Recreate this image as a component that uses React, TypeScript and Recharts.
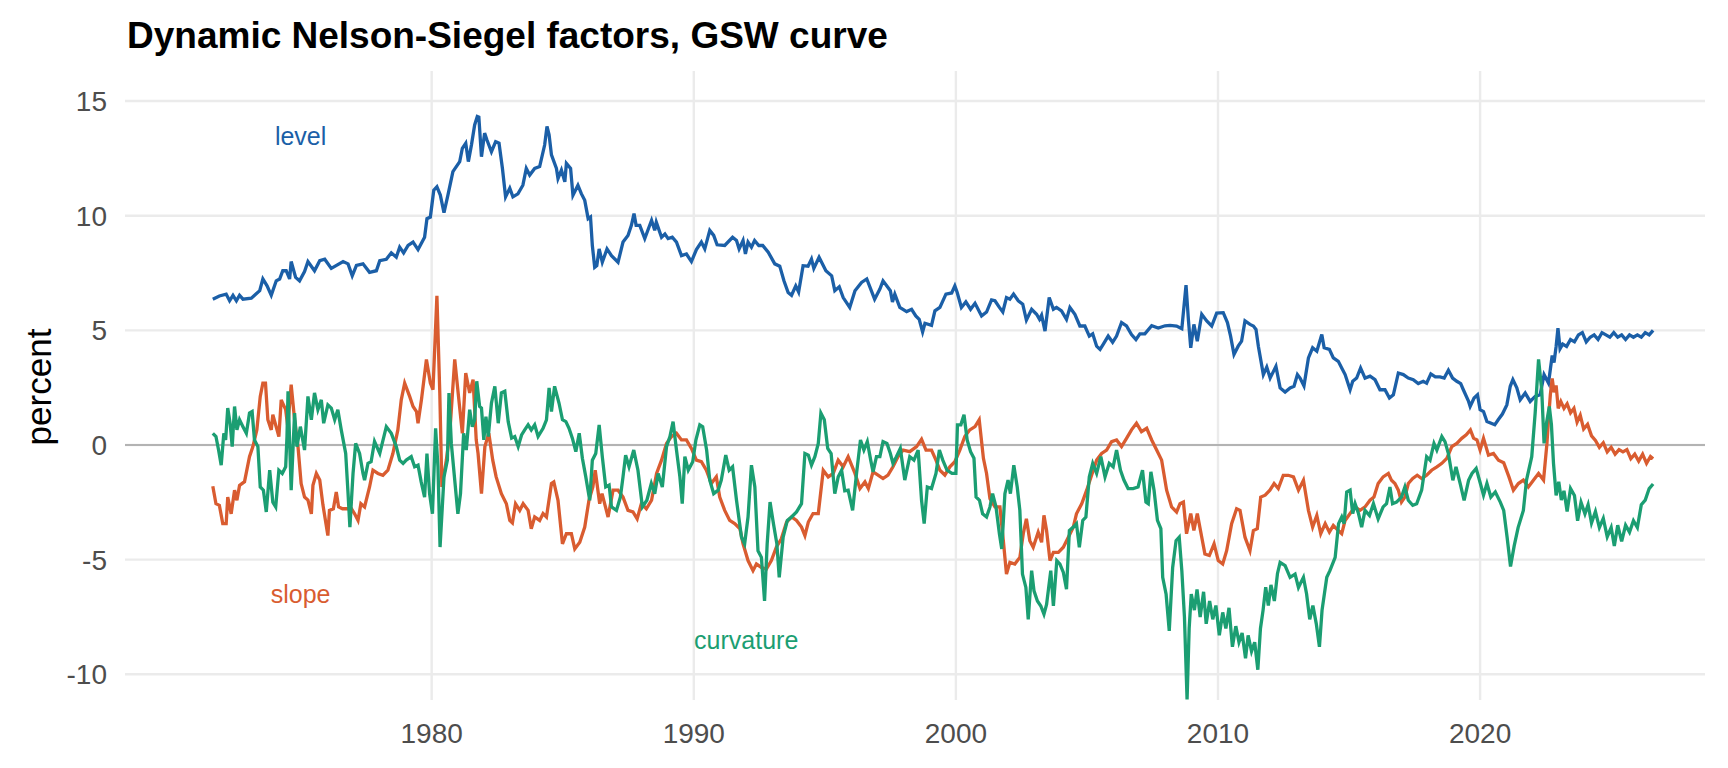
import React from 'react';
import { LineChart, Line, XAxis, YAxis, CartesianGrid, ReferenceLine, ReferenceDot } from 'recharts';

// [year, percent]
const level: [number, number][] = [
  [1971.65, 6.36], [1971.9, 6.5], [1972.16, 6.58], [1972.29, 6.29], [1972.42, 6.53], [1972.55, 6.29],
  [1972.67, 6.53], [1972.8, 6.36], [1973.12, 6.4], [1973.44, 6.73], [1973.56, 7.24], [1973.72, 6.94],
  [1973.88, 6.53], [1974.07, 7.16], [1974.2, 7.24], [1974.32, 7.6], [1974.45, 7.6], [1974.58, 7.24],
  [1974.64, 8.0], [1974.81, 7.31], [1974.96, 7.16], [1975.15, 7.56], [1975.28, 8.0], [1975.53, 7.6],
  [1975.73, 8.04], [1975.92, 8.1], [1976.17, 7.7], [1976.62, 8.0], [1976.81, 7.9], [1976.97, 7.38],
  [1977.13, 7.83], [1977.38, 7.9], [1977.63, 7.53], [1977.89, 7.6], [1978.02, 8.04], [1978.27, 8.1],
  [1978.46, 8.38], [1978.65, 8.19], [1978.78, 8.63], [1978.93, 8.38], [1979.1, 8.7], [1979.29, 8.85],
  [1979.48, 8.52], [1979.73, 9.06], [1979.82, 9.87], [1979.95, 9.94], [1980.08, 11.11], [1980.2, 11.26],
  [1980.33, 10.9], [1980.47, 10.13], [1980.62, 10.9], [1980.81, 11.92], [1980.94, 12.14], [1981.07, 12.36],
  [1981.17, 12.94], [1981.3, 13.16], [1981.4, 12.36], [1981.52, 13.1], [1981.64, 13.96], [1981.74, 14.33],
  [1981.8, 14.3], [1981.9, 12.57], [1982.02, 13.6], [1982.11, 13.3], [1982.28, 12.79], [1982.44, 13.23],
  [1982.57, 13.16], [1982.7, 12.06], [1982.82, 10.82], [1982.98, 11.2], [1983.1, 10.82], [1983.29, 10.95],
  [1983.48, 11.33], [1983.61, 12.06], [1983.74, 11.77], [1983.93, 12.06], [1984.12, 12.14], [1984.31, 13.08],
  [1984.4, 13.89], [1984.48, 13.53], [1984.57, 12.65], [1984.76, 12.06], [1984.82, 11.62], [1984.95, 11.99],
  [1985.08, 11.48], [1985.14, 12.28], [1985.3, 12.06], [1985.39, 10.89], [1985.58, 11.33], [1985.71, 10.96],
  [1985.84, 10.67], [1985.97, 9.87], [1986.06, 9.94], [1986.13, 8.7], [1986.22, 7.75], [1986.3, 7.82],
  [1986.39, 8.55], [1986.51, 7.97], [1986.69, 8.55], [1986.86, 8.26], [1987.11, 7.97], [1987.3, 8.85],
  [1987.49, 9.14], [1987.62, 9.58], [1987.72, 10.09], [1987.8, 9.58], [1987.94, 9.58], [1988.13, 9.0],
  [1988.39, 9.8], [1988.51, 9.36], [1988.57, 9.72], [1988.77, 9.06], [1988.9, 9.2], [1989.02, 9.0],
  [1989.18, 9.06], [1989.34, 8.85], [1989.53, 8.26], [1989.72, 8.33], [1989.91, 8.0], [1990.1, 8.52],
  [1990.29, 8.85], [1990.42, 8.55], [1990.61, 9.36], [1990.76, 9.14], [1990.89, 8.73], [1991.18, 8.7],
  [1991.48, 9.06], [1991.63, 8.92], [1991.73, 8.55], [1991.88, 8.92], [1991.97, 8.33], [1992.07, 8.85],
  [1992.2, 8.63], [1992.32, 8.92], [1992.48, 8.7], [1992.63, 8.7], [1992.84, 8.41], [1993.09, 7.9],
  [1993.28, 7.8], [1993.44, 7.16], [1993.6, 6.65], [1993.73, 6.53], [1993.89, 6.94], [1994.0, 6.67],
  [1994.17, 7.82], [1994.36, 7.8], [1994.49, 8.11], [1994.58, 7.7], [1994.78, 8.19], [1995.04, 7.6],
  [1995.26, 7.38], [1995.38, 6.73], [1995.55, 6.9], [1995.7, 6.43], [1995.95, 6.0], [1996.15, 6.73],
  [1996.4, 7.09], [1996.6, 7.24], [1996.9, 6.36], [1997.1, 6.8], [1997.22, 7.16], [1997.5, 6.73],
  [1997.58, 6.24], [1997.67, 6.58], [1997.86, 6.0], [1998.12, 5.82], [1998.31, 5.92], [1998.47, 5.63],
  [1998.6, 5.48], [1998.73, 4.93], [1998.82, 5.31], [1999.07, 5.22], [1999.2, 5.85], [1999.39, 6.0],
  [1999.62, 6.58], [1999.84, 6.63], [1999.96, 6.94], [2000.05, 6.65], [2000.21, 6.0], [2000.38, 6.24],
  [2000.56, 5.92], [2000.73, 6.18], [2000.98, 5.63], [2001.17, 5.8], [2001.36, 6.33], [2001.49, 6.29],
  [2001.66, 6.0], [2001.79, 5.8], [2001.93, 6.43], [2002.06, 6.36], [2002.2, 6.58], [2002.38, 6.29],
  [2002.55, 6.14], [2002.69, 5.45], [2002.89, 5.92], [2003.08, 5.7], [2003.19, 5.48], [2003.27, 5.66],
  [2003.4, 4.97], [2003.56, 6.43], [2003.72, 5.92], [2003.84, 6.0], [2004.03, 5.85], [2004.22, 5.48],
  [2004.35, 6.0], [2004.54, 5.7], [2004.73, 5.19], [2004.92, 5.19], [2005.09, 4.75], [2005.22, 4.85],
  [2005.37, 4.31], [2005.5, 4.17], [2005.62, 4.39], [2005.81, 4.75], [2005.98, 4.48], [2006.13, 4.75],
  [2006.32, 5.34], [2006.51, 5.19], [2006.7, 4.82], [2006.87, 4.6], [2007.02, 4.85], [2007.21, 4.85],
  [2007.47, 5.2], [2007.72, 5.1], [2007.98, 5.2], [2008.17, 5.22], [2008.42, 5.19], [2008.62, 5.07],
  [2008.78, 6.97], [2008.87, 5.48], [2008.96, 4.24], [2009.08, 5.26], [2009.21, 4.53], [2009.38, 5.7],
  [2009.57, 5.41], [2009.76, 5.19], [2009.95, 5.75], [2010.2, 5.77], [2010.36, 5.34], [2010.48, 4.75],
  [2010.61, 3.95], [2010.77, 4.31], [2010.9, 4.53], [2011.03, 5.41], [2011.22, 5.26], [2011.35, 5.19],
  [2011.45, 5.04], [2011.54, 4.31], [2011.73, 3.07], [2011.86, 3.4], [2011.99, 2.92], [2012.21, 3.43],
  [2012.37, 2.49], [2012.56, 2.31], [2012.75, 2.49], [2012.9, 2.56], [2013.03, 3.07], [2013.13, 2.92],
  [2013.28, 2.58], [2013.45, 3.8], [2013.61, 4.24], [2013.77, 4.09], [2013.96, 4.82], [2014.05, 4.24],
  [2014.25, 4.17], [2014.4, 3.8], [2014.59, 3.65], [2014.72, 3.36], [2014.85, 3.07], [2015.04, 2.41],
  [2015.14, 2.78], [2015.29, 2.92], [2015.44, 3.36], [2015.61, 2.92], [2015.8, 3.0], [2015.99, 2.85],
  [2016.18, 2.41], [2016.37, 2.41], [2016.54, 2.05], [2016.69, 2.19], [2016.88, 3.14], [2017.07, 3.07],
  [2017.26, 2.92], [2017.45, 2.85], [2017.64, 2.68], [2017.83, 2.78], [2017.96, 2.7], [2018.12, 3.1],
  [2018.29, 2.97], [2018.47, 2.97], [2018.63, 2.92], [2018.79, 3.26], [2018.95, 2.92], [2019.11, 2.78],
  [2019.26, 2.68], [2019.36, 2.41], [2019.56, 1.9], [2019.62, 1.68], [2019.77, 2.05], [2019.9, 2.19],
  [2020.0, 1.54], [2020.13, 1.46], [2020.26, 1.02], [2020.56, 0.88], [2020.69, 1.1], [2020.85, 1.35],
  [2021.02, 1.75], [2021.15, 2.56], [2021.25, 2.85], [2021.4, 2.49], [2021.53, 1.97], [2021.72, 2.27],
  [2021.91, 1.9], [2022.1, 2.12], [2022.29, 2.19], [2022.44, 3.07], [2022.61, 2.7], [2022.68, 3.3],
  [2022.75, 3.9], [2022.82, 3.6], [2022.9, 4.3], [2022.97, 5.1], [2023.05, 4.2], [2023.15, 4.4],
  [2023.3, 4.3], [2023.45, 4.6], [2023.6, 4.5], [2023.75, 4.8], [2023.9, 4.9], [2024.05, 4.5],
  [2024.2, 4.7], [2024.35, 4.8], [2024.5, 4.6], [2024.65, 4.9], [2024.8, 4.8], [2024.95, 4.7],
  [2025.1, 4.9], [2025.25, 4.7], [2025.4, 4.8], [2025.55, 4.6], [2025.7, 4.8], [2025.85, 4.7],
  [2026.0, 4.8], [2026.15, 4.7], [2026.3, 4.9], [2026.45, 4.8], [2026.6, 5.0],
];

const slope: [number, number][] = [
  [1971.65, -1.8], [1971.77, -2.56], [1971.9, -2.63], [1972.03, -3.43], [1972.16, -3.43], [1972.22, -2.27],
  [1972.35, -3.0], [1972.48, -1.97], [1972.57, -2.41], [1972.67, -1.76], [1972.86, -1.6], [1973.05, -0.51],
  [1973.18, -0.07], [1973.33, 0.66], [1973.46, 2.12], [1973.56, 2.7], [1973.66, 2.7], [1973.75, 1.1],
  [1973.88, 0.66], [1973.94, 1.32], [1974.1, 0.66], [1974.17, 0.37], [1974.26, 1.97], [1974.43, 1.54],
  [1974.51, 0.8], [1974.64, 2.63], [1974.77, 1.1], [1974.9, -0.07], [1975.02, -1.68], [1975.15, -2.27],
  [1975.28, -2.4], [1975.41, -3.0], [1975.47, -1.76], [1975.6, -1.24], [1975.73, -1.53], [1975.85, -2.6],
  [1976.04, -3.95], [1976.1, -2.85], [1976.25, -2.78], [1976.36, -2.05], [1976.45, -2.7], [1976.6, -2.78],
  [1976.74, -2.78], [1976.94, -2.78], [1977.06, -3.0], [1977.19, -3.29], [1977.3, -2.56], [1977.44, -2.7],
  [1977.63, -1.83], [1977.76, -1.1], [1977.95, -1.24], [1978.14, -1.32], [1978.33, -1.1], [1978.52, -0.37],
  [1978.71, 0.66], [1978.84, 1.97], [1978.97, 2.7], [1979.16, 2.12], [1979.29, 1.68], [1979.42, 1.46],
  [1979.48, 0.95], [1979.61, 1.97], [1979.8, 3.73], [1979.95, 2.7], [1980.05, 2.41], [1980.2, 6.51],
  [1980.31, 2.27], [1980.39, -1.83], [1980.56, -0.66], [1980.69, 0.51], [1980.88, 3.73], [1981.01, 2.27],
  [1981.17, 0.51], [1981.3, 3.14], [1981.45, 2.27], [1981.58, 2.85], [1981.7, 0.22], [1981.77, -0.37],
  [1981.9, -2.12], [1982.03, -0.07], [1982.18, 0.51], [1982.33, -0.66], [1982.46, -1.39], [1982.66, -2.12],
  [1982.85, -2.56], [1982.98, -3.29], [1983.08, -3.4], [1983.2, -2.56], [1983.36, -2.85], [1983.49, -2.56],
  [1983.68, -2.85], [1983.8, -3.65], [1983.93, -3.14], [1984.12, -3.29], [1984.25, -2.99], [1984.38, -3.14],
  [1984.57, -1.68], [1984.66, -1.61], [1984.82, -2.41], [1984.99, -4.31], [1985.14, -3.87], [1985.33, -3.87],
  [1985.46, -4.53], [1985.65, -4.24], [1985.84, -3.58], [1986.0, -2.41], [1986.15, -1.83], [1986.24, -1.1],
  [1986.41, -2.56], [1986.5, -2.12], [1986.73, -3.14], [1986.92, -1.97], [1987.11, -1.97], [1987.3, -2.27],
  [1987.49, -2.85], [1987.68, -2.92], [1987.84, -3.22], [1988.0, -2.56], [1988.19, -2.78], [1988.39, -2.41],
  [1988.58, -1.24], [1988.77, -0.66], [1988.96, 0.07], [1989.15, 0.37], [1989.34, 0.51], [1989.53, 0.22],
  [1989.72, 0.22], [1989.91, -0.15], [1990.1, -0.66], [1990.29, -0.73], [1990.48, -1.1], [1990.67, -1.68],
  [1990.86, -1.39], [1990.99, -2.27], [1991.18, -2.85], [1991.37, -3.29], [1991.56, -3.43], [1991.76, -3.65],
  [1991.88, -4.31], [1992.07, -5.04], [1992.26, -5.48], [1992.39, -5.19], [1992.58, -5.34], [1992.77, -5.41],
  [1992.96, -5.04], [1993.15, -4.46], [1993.34, -4.09], [1993.54, -3.36], [1993.73, -3.14], [1993.92, -3.29],
  [1994.11, -3.58], [1994.24, -3.95], [1994.37, -3.36], [1994.55, -2.99], [1994.75, -2.99], [1994.94, -1.1],
  [1995.13, -1.39], [1995.32, -1.24], [1995.51, -0.66], [1995.7, -0.95], [1995.89, -0.51], [1996.15, -1.24],
  [1996.34, -1.9], [1996.53, -1.61], [1996.66, -1.9], [1996.84, -1.17], [1997.03, -1.31], [1997.22, -1.46],
  [1997.41, -1.31], [1997.6, -0.95], [1997.79, -0.51], [1997.99, -0.22], [1998.24, -0.29], [1998.5, -0.07],
  [1998.69, 0.25], [1998.86, -0.22], [1999.07, -0.22], [1999.24, -0.66], [1999.39, -1.1], [1999.58, -1.31],
  [1999.77, -0.95], [1999.96, -0.73], [2000.15, -0.22], [2000.34, 0.37], [2000.53, 0.66], [2000.73, 0.8],
  [2000.89, 1.1], [2001.05, -0.58], [2001.17, -1.24], [2001.3, -2.34], [2001.49, -2.7], [2001.68, -2.7],
  [2001.81, -4.17], [2001.93, -5.63], [2002.06, -5.12], [2002.25, -5.19], [2002.44, -4.9], [2002.57, -3.87],
  [2002.69, -3.22], [2002.82, -4.17], [2002.95, -4.46], [2003.14, -3.8], [2003.27, -4.24], [2003.36, -3.07],
  [2003.46, -3.73], [2003.59, -5.04], [2003.72, -4.68], [2003.91, -4.68], [2004.1, -4.46], [2004.29, -4.02],
  [2004.48, -3.58], [2004.6, -3.0], [2004.8, -2.56], [2004.99, -1.97], [2005.18, -1.31], [2005.37, -0.66],
  [2005.56, -0.37], [2005.75, -0.22], [2005.94, 0.15], [2006.13, 0.22], [2006.32, -0.07], [2006.51, 0.29],
  [2006.7, 0.66], [2006.89, 0.95], [2007.08, 0.58], [2007.28, 0.73], [2007.47, 0.22], [2007.66, -0.22],
  [2007.85, -0.66], [2008.04, -1.97], [2008.23, -2.7], [2008.42, -2.92], [2008.55, -2.56], [2008.68, -2.49],
  [2008.8, -3.87], [2008.96, -2.99], [2009.08, -3.73], [2009.21, -2.99], [2009.38, -4.02], [2009.5, -4.75],
  [2009.67, -4.82], [2009.85, -4.31], [2010.01, -5.04], [2010.18, -5.19], [2010.33, -4.61], [2010.52, -3.43],
  [2010.71, -2.78], [2010.84, -2.85], [2011.03, -4.02], [2011.22, -4.61], [2011.35, -3.73], [2011.5, -3.65],
  [2011.63, -2.27], [2011.8, -2.19], [2011.98, -1.97], [2012.14, -1.68], [2012.3, -1.9], [2012.49, -1.32],
  [2012.68, -1.32], [2012.88, -1.39], [2013.07, -1.97], [2013.26, -1.54], [2013.45, -2.85], [2013.61, -3.58],
  [2013.77, -3.07], [2013.92, -3.87], [2014.09, -3.43], [2014.25, -3.8], [2014.4, -3.51], [2014.59, -3.73],
  [2014.72, -3.87], [2014.85, -3.29], [2015.04, -2.99], [2015.23, -2.7], [2015.42, -2.85], [2015.61, -2.7],
  [2015.8, -2.41], [2015.95, -2.27], [2016.11, -1.68], [2016.3, -1.39], [2016.5, -1.24], [2016.62, -1.54],
  [2016.75, -1.68], [2016.88, -1.97], [2017.0, -2.49], [2017.13, -2.27], [2017.26, -1.68], [2017.43, -1.46],
  [2017.6, -1.32], [2017.77, -1.46], [2017.96, -1.32], [2018.15, -1.1], [2018.35, -0.95], [2018.54, -0.8],
  [2018.73, -0.58], [2018.92, -0.07], [2019.11, 0.07], [2019.3, 0.29], [2019.47, 0.44], [2019.63, 0.66],
  [2019.75, 0.3], [2019.88, 0.22], [2020.0, -0.22], [2020.13, 0.29], [2020.32, -0.44], [2020.51, -0.37],
  [2020.7, -0.66], [2020.9, -0.77], [2021.1, -1.39], [2021.27, -1.97], [2021.46, -1.68], [2021.65, -1.53],
  [2021.84, -1.83], [2022.04, -1.53], [2022.23, -1.24], [2022.42, -1.53], [2022.55, 0.07], [2022.62, 1.3],
  [2022.68, 2.2], [2022.75, 2.9], [2022.82, 2.3], [2022.9, 2.6], [2022.98, 1.6], [2023.08, 1.9],
  [2023.2, 1.6], [2023.32, 1.8], [2023.45, 1.4], [2023.58, 1.6], [2023.7, 1.0], [2023.82, 1.3],
  [2023.95, 0.7], [2024.1, 0.9], [2024.25, 0.4], [2024.4, 0.2], [2024.55, -0.1], [2024.7, 0.1],
  [2024.85, -0.3], [2025.0, -0.1], [2025.15, -0.4], [2025.3, -0.2], [2025.45, -0.3], [2025.6, -0.2],
  [2025.75, -0.6], [2025.9, -0.4], [2026.05, -0.7], [2026.2, -0.4], [2026.35, -0.8], [2026.5, -0.5],
  [2026.6, -0.6],
];

const curvature: [number, number][] = [
  [1971.65, 0.51], [1971.77, 0.37], [1971.87, -0.22], [1971.97, -0.88], [1972.07, 0.51], [1972.14, 0.22],
  [1972.22, 1.61], [1972.31, 0.95], [1972.39, -0.07], [1972.48, 1.68], [1972.57, 0.66], [1972.67, 1.1],
  [1972.8, 0.8], [1972.93, 0.51], [1973.05, 1.39], [1973.15, 1.46], [1973.24, 0.22], [1973.37, -0.07],
  [1973.46, -1.83], [1973.58, -1.97], [1973.69, -2.92], [1973.82, -1.1], [1973.94, -2.49], [1974.05, -2.7],
  [1974.17, -1.1], [1974.3, -1.24], [1974.43, -0.95], [1974.48, 0.37], [1974.52, 2.34], [1974.64, -1.97],
  [1974.77, 1.39], [1974.86, -0.07], [1974.99, 0.8], [1975.15, -0.22], [1975.28, 2.12], [1975.41, 1.1],
  [1975.53, 2.27], [1975.66, 1.54], [1975.79, 1.97], [1975.88, 0.95], [1976.04, 1.75], [1976.17, 1.61],
  [1976.3, 1.1], [1976.42, 1.54], [1976.55, 0.66], [1976.72, -0.37], [1976.81, -2.12], [1976.88, -3.58],
  [1977.0, -1.24], [1977.1, 0.07], [1977.25, -0.37], [1977.38, -1.24], [1977.44, -1.53], [1977.57, -0.8],
  [1977.69, -0.73], [1977.82, 0.15], [1978.02, -0.37], [1978.27, 0.8], [1978.46, 0.51], [1978.65, -0.07],
  [1978.78, -0.66], [1978.91, -0.8], [1979.03, -0.66], [1979.22, -0.51], [1979.35, -0.95], [1979.48, -0.88],
  [1979.6, -1.61], [1979.73, -2.27], [1979.82, -0.37], [1979.92, -2.12], [1980.03, -3.0], [1980.15, 0.73],
  [1980.24, -0.95], [1980.32, -4.45], [1980.47, -1.39], [1980.6, -0.66], [1980.66, 2.27], [1980.75, 0.07],
  [1980.88, -1.53], [1981.0, -3.0], [1981.1, -2.12], [1981.22, 0.51], [1981.32, -0.22], [1981.45, 1.54],
  [1981.55, 0.8], [1981.64, 1.1], [1981.72, 2.78], [1981.83, 1.68], [1981.9, 1.61], [1981.99, 0.22],
  [1982.07, 1.24], [1982.16, 0.37], [1982.28, 1.82], [1982.41, 2.56], [1982.54, 0.95], [1982.66, 2.27],
  [1982.79, 2.34], [1982.92, 1.02], [1983.05, 0.3], [1983.17, 0.37], [1983.3, -0.07], [1983.43, 0.44],
  [1983.55, 0.66], [1983.68, 0.88], [1983.8, 0.66], [1983.93, 0.88], [1984.06, 0.37], [1984.25, 0.73],
  [1984.38, 1.1], [1984.48, 2.49], [1984.57, 1.46], [1984.69, 2.56], [1984.86, 1.82], [1984.99, 1.1],
  [1985.12, 1.02], [1985.24, 0.73], [1985.37, 0.29], [1985.5, -0.29], [1985.63, 0.51], [1985.75, -0.58],
  [1985.88, -1.39], [1986.03, -2.41], [1986.13, -0.66], [1986.26, -0.37], [1986.39, 0.88], [1986.51, -0.51],
  [1986.64, -1.83], [1986.77, -1.75], [1986.86, -2.7], [1987.05, -2.85], [1987.2, -2.27], [1987.3, -1.39],
  [1987.4, -0.44], [1987.53, -0.95], [1987.71, -0.22], [1987.87, -1.1], [1988.04, -2.7], [1988.21, -2.41],
  [1988.38, -1.68], [1988.51, -2.12], [1988.64, -1.24], [1988.8, -1.83], [1988.96, -0.07], [1989.09, 0.37],
  [1989.21, 1.02], [1989.34, -0.22], [1989.47, -1.39], [1989.56, -2.56], [1989.66, -0.51], [1989.79, -1.1],
  [1989.96, -0.73], [1990.08, 0.22], [1990.23, 0.88], [1990.34, 0.8], [1990.49, -0.22], [1990.61, -1.53],
  [1990.76, -2.12], [1990.93, -1.97], [1991.05, -1.53], [1991.22, -0.44], [1991.35, -1.1], [1991.48, -0.95],
  [1991.63, -2.41], [1991.82, -4.02], [1991.94, -4.31], [1992.07, -3.14], [1992.2, -0.88], [1992.33, -1.83],
  [1992.45, -4.61], [1992.58, -4.9], [1992.7, -6.8], [1992.8, -4.31], [1992.91, -2.49], [1993.04, -3.43],
  [1993.17, -4.31], [1993.26, -5.77], [1993.41, -4.02], [1993.57, -3.29], [1993.73, -3.14], [1993.92, -2.92],
  [1994.11, -2.56], [1994.24, -0.37], [1994.37, -0.44], [1994.49, -0.88], [1994.62, -0.51], [1994.75, 0.07],
  [1994.85, 1.39], [1994.98, 1.1], [1995.11, -0.15], [1995.24, -0.37], [1995.38, -2.12], [1995.51, -1.39],
  [1995.64, -1.1], [1995.76, -2.0], [1995.89, -1.97], [1996.06, -2.85], [1996.21, -1.24], [1996.36, 0.22],
  [1996.49, -0.22], [1996.62, 0.15], [1996.75, -0.66], [1996.84, -1.17], [1996.97, -0.51], [1997.1, -0.51],
  [1997.22, 0.15], [1997.37, 0.07], [1997.5, -0.37], [1997.6, -0.8], [1997.73, -0.51], [1997.88, -0.15],
  [1998.05, -1.53], [1998.24, -0.51], [1998.4, -0.66], [1998.56, -0.22], [1998.69, -2.41], [1998.79, -3.43],
  [1998.91, -1.83], [1999.07, -1.9], [1999.24, -1.24], [1999.37, -0.22], [1999.5, -0.66], [1999.66, -1.1],
  [1999.85, -1.24], [2000.0, -1.24], [2000.06, 0.88], [2000.19, 0.88], [2000.31, 1.32], [2000.43, 0.22],
  [2000.56, -0.29], [2000.69, -0.58], [2000.77, -2.27], [2000.9, -2.41], [2001.02, -3.0], [2001.17, -3.14],
  [2001.3, -2.7], [2001.4, -2.12], [2001.53, -2.7], [2001.66, -3.87], [2001.75, -4.53], [2001.87, -2.12],
  [2001.99, -1.53], [2002.08, -2.12], [2002.21, -0.88], [2002.34, -1.83], [2002.44, -2.85], [2002.54, -5.63],
  [2002.67, -6.21], [2002.76, -7.6], [2002.89, -5.48], [2002.98, -6.36], [2003.11, -6.8], [2003.24, -7.02],
  [2003.36, -7.38], [2003.46, -6.95], [2003.62, -5.48], [2003.72, -7.02], [2003.85, -5.04], [2003.97, -5.19],
  [2004.1, -5.56], [2004.22, -6.29], [2004.33, -3.73], [2004.48, -3.58], [2004.6, -3.43], [2004.71, -4.46],
  [2004.84, -3.29], [2004.96, -3.14], [2005.09, -1.39], [2005.22, -0.8], [2005.37, -1.24], [2005.53, -0.51],
  [2005.69, -1.39], [2005.85, -0.8], [2006.0, -0.95], [2006.13, -0.22], [2006.28, -1.1], [2006.41, -1.53],
  [2006.57, -1.9], [2006.76, -1.9], [2006.95, -1.83], [2007.12, -1.1], [2007.25, -2.49], [2007.34, -2.56],
  [2007.44, -1.17], [2007.56, -1.97], [2007.69, -3.29], [2007.82, -3.65], [2007.89, -5.77], [2008.02, -6.51],
  [2008.14, -8.11], [2008.27, -5.34], [2008.4, -4.17], [2008.52, -4.02], [2008.62, -5.48], [2008.72, -7.5],
  [2008.82, -11.1], [2008.9, -8.0], [2008.98, -6.5], [2009.1, -7.2], [2009.2, -6.3], [2009.32, -7.5],
  [2009.45, -6.4], [2009.55, -7.8], [2009.68, -6.8], [2009.8, -7.6], [2009.92, -7.0], [2010.05, -8.3],
  [2010.18, -7.3], [2010.3, -8.0], [2010.42, -7.1], [2010.55, -8.8], [2010.68, -7.9], [2010.8, -8.6],
  [2010.92, -8.2], [2011.05, -9.3], [2011.15, -8.3], [2011.28, -9.0], [2011.4, -8.6], [2011.52, -9.8],
  [2011.62, -8.0], [2011.72, -7.2], [2011.82, -6.2], [2011.92, -7.0], [2012.02, -6.1], [2012.15, -6.8],
  [2012.27, -5.6], [2012.37, -5.12], [2012.56, -5.26], [2012.75, -5.77], [2012.94, -5.63], [2013.07, -6.21],
  [2013.26, -5.77], [2013.38, -6.5], [2013.5, -7.6], [2013.62, -7.0], [2013.75, -7.8], [2013.87, -8.8],
  [2013.97, -7.2], [2014.15, -5.77], [2014.27, -5.48], [2014.47, -4.9], [2014.6, -3.43], [2014.72, -3.14],
  [2014.81, -3.43], [2014.91, -2.05], [2015.04, -1.97], [2015.14, -2.99], [2015.23, -2.56], [2015.36, -2.99],
  [2015.48, -3.58], [2015.61, -2.85], [2015.78, -3.07], [2015.93, -2.56], [2016.11, -3.22], [2016.3, -2.7],
  [2016.43, -2.56], [2016.56, -1.83], [2016.66, -2.56], [2016.81, -2.49], [2017.0, -2.27], [2017.13, -1.83],
  [2017.26, -2.41], [2017.43, -2.63], [2017.58, -2.56], [2017.77, -1.97], [2017.96, -0.51], [2018.09, -0.66],
  [2018.24, 0.07], [2018.35, -0.22], [2018.54, 0.37], [2018.66, 0.15], [2018.79, -0.37], [2018.96, -1.54],
  [2019.08, -0.95], [2019.24, -1.68], [2019.39, -2.41], [2019.56, -1.54], [2019.69, -1.24], [2019.85, -1.02],
  [2020.01, -1.68], [2020.13, -2.19], [2020.26, -1.68], [2020.41, -2.27], [2020.58, -2.05], [2020.77, -2.49],
  [2020.9, -2.85], [2021.03, -4.02], [2021.16, -5.3], [2021.3, -4.4], [2021.45, -3.6], [2021.65, -2.85],
  [2021.77, -1.53], [2021.97, -0.51], [2022.1, 1.39], [2022.23, 3.73], [2022.35, 2.41], [2022.44, 0.07],
  [2022.54, 1.0], [2022.64, 1.68], [2022.72, 0.9], [2022.8, -0.8], [2022.9, -2.2], [2023.0, -1.6],
  [2023.1, -2.4], [2023.2, -2.0], [2023.32, -2.9], [2023.45, -1.9], [2023.6, -2.2], [2023.72, -3.3],
  [2023.85, -2.5], [2024.0, -3.0], [2024.12, -2.6], [2024.25, -3.4], [2024.4, -2.9], [2024.55, -3.6],
  [2024.7, -3.2], [2024.85, -4.0], [2025.0, -3.6], [2025.12, -4.4], [2025.25, -3.5], [2025.4, -4.2],
  [2025.55, -3.5], [2025.7, -3.8], [2025.85, -3.3], [2026.0, -3.6], [2026.15, -2.6], [2026.3, -2.4],
  [2026.45, -1.9], [2026.6, -1.7],
];

const xTicks = [1980, 1990, 2000, 2010, 2020];
const yTicks = [-10, -5, 0, 5, 10, 15];

const LEVEL_COLOR = '#1b5fa7';
const SLOPE_COLOR = '#d95c30';
const CURV_COLOR = '#1b9e72';

const rows = (pts: [number, number][]) => pts.map(([t, v]) => ({ t, v }));

const tickStyle = { fill: '#4d4d4d', fontSize: 28 };

export default function App() {
  return (
    <div style={{ position: 'relative', width: 1712, height: 752, fontFamily: '"Liberation Sans", Arial, sans-serif' }}>
      <div style={{ position: 'absolute', left: 119, top: 9, fontSize: 37, fontWeight: 700, lineHeight: 1, color: '#000', whiteSpace: 'nowrap' }}>
        Dynamic Nelson-Siegel factors, GSW curve
      </div>
      <div
        style={{
          position: 'absolute', left: 30, top: 379, fontSize: 35, lineHeight: 1, color: '#000', whiteSpace: 'nowrap',
          transform: 'translate(-50%, -50%) rotate(-90deg)',
        }}
      >
        percent
      </div>
      <LineChart width={1712} height={752} margin={{ top: 63, right: 15, bottom: 0, left: 0 }}>
        <CartesianGrid stroke="#ebebeb" strokeWidth={2.4} syncWithTicks />
        <XAxis
          type="number" dataKey="t" domain={[1968.3, 2028.58]} ticks={xTicks} allowDataOverflow
          axisLine={false} tickLine={false} tick={tickStyle} tickMargin={17} height={60}
        />
        <YAxis
          type="number" domain={[-11.12, 16.31]} ticks={yTicks} allowDataOverflow
          axisLine={false} tickLine={false} tick={tickStyle} tickMargin={12} width={117}
        />
        <ReferenceLine y={0} stroke="#b3b3b3" strokeWidth={2} />
        <Line data={rows(level)} dataKey="v" stroke={LEVEL_COLOR} strokeWidth={3.3} dot={false} isAnimationActive={false} />
        <Line data={rows(slope)} dataKey="v" stroke={SLOPE_COLOR} strokeWidth={3.3} dot={false} isAnimationActive={false} />
        <Line data={rows(curvature)} dataKey="v" stroke={CURV_COLOR} strokeWidth={3.3} dot={false} isAnimationActive={false} />
        <ReferenceDot x={1975} y={13.45} r={1} fill="none" stroke="none"
          label={{ value: 'level', position: 'center', fill: LEVEL_COLOR, fontSize: 25 }} />
        <ReferenceDot x={1975} y={-6.5} r={1} fill="none" stroke="none"
          label={{ value: 'slope', position: 'center', fill: SLOPE_COLOR, fontSize: 25 }} />
        <ReferenceDot x={1992} y={-8.5} r={1} fill="none" stroke="none"
          label={{ value: 'curvature', position: 'center', fill: CURV_COLOR, fontSize: 25 }} />
      </LineChart>
    </div>
  );
}
